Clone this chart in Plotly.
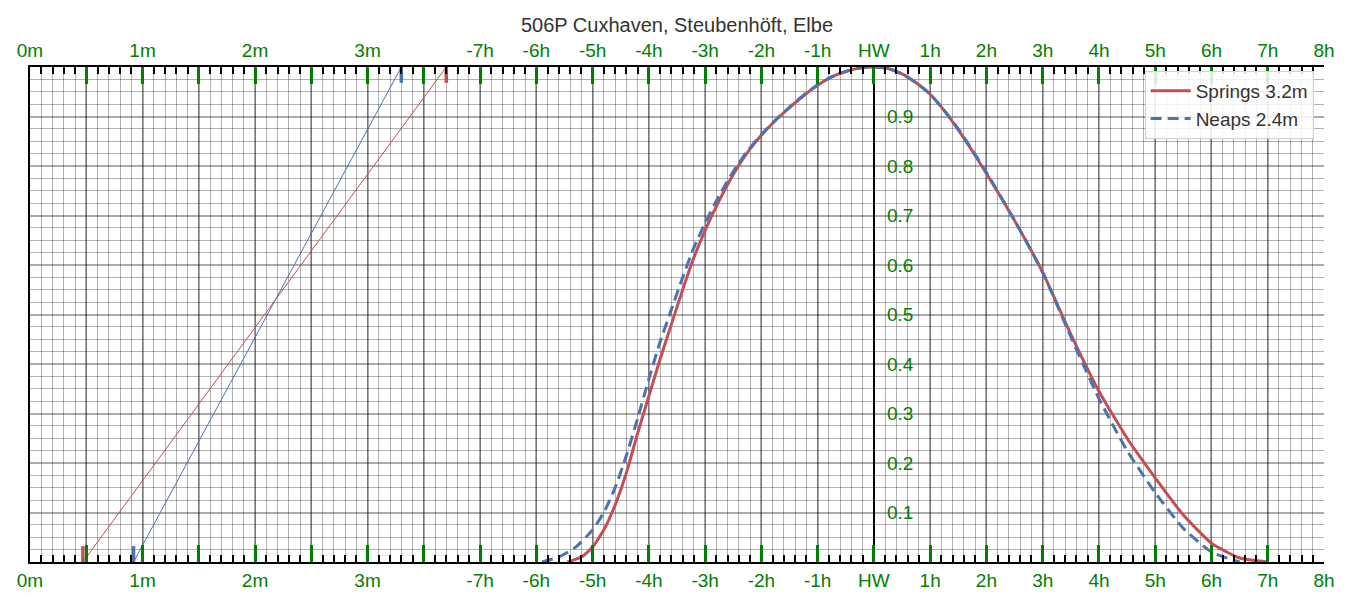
import plotly.graph_objects as go

TITLE = "506P Cuxhaven, Steubenhöft, Elbe"

# Tidal curve: hours relative to HW, height factor (0..1)
springs_hours = [-5.45, -5.2, -5.0, -4.8, -4.6, -4.4, -4.2, -4.0, -3.8, -3.6, -3.4, -3.2, -3.0,
                 -2.75, -2.5, -2.25, -2.0, -1.75, -1.5, -1.25, -1.0, -0.75, -0.5, -0.25, 0.0,
                 0.25, 0.5, 0.75, 1.0, 1.25, 1.5, 1.75, 2.0, 2.5, 3.0, 3.5, 4.0,
                 4.5, 5.0, 5.5, 6.0, 6.5, 7.0]
springs_factor = [0.0, 0.01, 0.03, 0.065, 0.115, 0.18, 0.26, 0.335, 0.41, 0.48, 0.55, 0.615, 0.67,
                  0.73, 0.783, 0.827, 0.862, 0.892, 0.918, 0.942, 0.963, 0.98, 0.991, 0.998, 1.0,
                  0.997, 0.986, 0.968, 0.945, 0.912, 0.873, 0.83, 0.785, 0.69, 0.585, 0.46, 0.345,
                  0.25, 0.17, 0.095, 0.038, 0.008, 0.0]

neaps_hours = [-5.9, -5.6, -5.3, -5.0, -4.8, -4.6, -4.4, -4.2, -4.0, -3.8, -3.6, -3.4, -3.2, -3.0,
               -2.75, -2.5, -2.25, -2.0, -1.75, -1.5, -1.25, -1.0, -0.75, -0.5, -0.25, 0.0,
               0.25, 0.5, 0.75, 1.0, 1.25, 1.5, 1.75, 2.0, 2.5, 3.0, 3.5, 4.0,
               4.5, 5.0, 5.5, 6.0, 6.5]
neaps_factor = [0.0, 0.01, 0.03, 0.065, 0.1, 0.15, 0.215, 0.29, 0.37, 0.445, 0.51, 0.575, 0.635, 0.685,
                0.74, 0.789, 0.83, 0.864, 0.893, 0.919, 0.943, 0.964, 0.98, 0.991, 0.998, 1.0,
                0.997, 0.986, 0.968, 0.945, 0.912, 0.875, 0.832, 0.787, 0.69, 0.585, 0.455, 0.33,
                0.225, 0.14, 0.068, 0.02, 0.0]

# Height scale (metres): LW and HW for springs / neaps
springs_lw_hw = [0.47, 3.70]
neaps_lw_hw = [0.92, 3.30]
springs_label = "Springs 3.2m"
neaps_label = "Neaps 2.4m"

# Axis ticks: unified x coordinate (hours from HW); metres scale occupies -15..-9 (2 units per metre)
x_tickvals = list(range(-15, 9))
x_ticktext = ["0m", "", "1m", "", "2m", "", "3m", "", "-7h", "-6h", "-5h", "-4h", "-3h", "-2h", "-1h",
              "HW", "1h", "2h", "3h", "4h", "5h", "6h", "7h", "8h"]
y_tickvals = [0.1, 0.2, 0.3, 0.4, 0.5, 0.6, 0.7, 0.8, 0.9]
y_ticktext = ["0.1", "0.2", "0.3", "0.4", "0.5", "0.6", "0.7", "0.8", "0.9"]

RED = "#C44E52"
BLUE = "#4C72B0"
GREEN = "#008000"
FONT = "Liberation Sans, Arial, sans-serif"
MAJOR_GRID = "rgba(0,0,0,0.33)"
MINOR_GRID = "rgba(0,0,0,0.30)"


def m_to_x(m):
    return -15 + 2 * m


fig = go.Figure()

# height scale lines
for (lw, hw), col in ((springs_lw_hw, RED), (neaps_lw_hw, BLUE)):
    fig.add_trace(go.Scatter(x=[m_to_x(lw), m_to_x(hw)], y=[0, 1], mode="lines",
                             line=dict(color=col, width=1), showlegend=False, hoverinfo="skip"))
    fig.add_trace(go.Scatter(x=[m_to_x(lw), m_to_x(lw)], y=[0, 0.032], mode="lines",
                             line=dict(color=col, width=3.5), showlegend=False, hoverinfo="skip"))
    fig.add_trace(go.Scatter(x=[m_to_x(hw), m_to_x(hw)], y=[0.968, 1], mode="lines",
                             line=dict(color=col, width=3.5), showlegend=False, hoverinfo="skip"))

fig.add_trace(go.Scatter(x=springs_hours, y=springs_factor, mode="lines", name=springs_label,
                         line=dict(color=RED, width=3, shape="spline", smoothing=0.5)))
fig.add_trace(go.Scatter(x=neaps_hours, y=neaps_factor, mode="lines", name=neaps_label,
                         line=dict(color=BLUE, width=3, dash="11px,6px", shape="spline", smoothing=0.5)))

# invisible anchors for the overlay axes
fig.add_trace(go.Scatter(x=[0], y=[0.5], xaxis="x2", yaxis="y2", mode="markers",
                         marker=dict(opacity=0), showlegend=False, hoverinfo="skip"))

tick_font = dict(family=FONT, size=19, color=GREEN)

common_x = dict(
    range=[-15, 8], tickmode="array", tickvals=x_tickvals, ticktext=x_ticktext,
    ticks="inside", ticklen=17, tickwidth=3, tickcolor=GREEN, tickfont=tick_font,
    showline=True, linecolor="black", linewidth=2,
)

fig.update_layout(
    width=1347, height=603,
    margin=dict(l=30, r=20, t=67, b=36),
    paper_bgcolor="white", plot_bgcolor="white",
    font=dict(family=FONT, size=19, color="#333333"),
    title=dict(text=TITLE, x=0.5, xref="paper", xanchor="center", y=1 - 25 / 603, yanchor="middle",
               font=dict(family=FONT, size=20, color="#333333")),
    xaxis=dict(
        **common_x, side="bottom",
        showgrid=True, gridcolor=MAJOR_GRID, gridwidth=1.6,
        zeroline=True, zerolinecolor="black", zerolinewidth=2,
        minor=dict(tickmode="linear", tick0=-15, dtick=0.2, ticks="inside", ticklen=7, tickwidth=1.5,
                   tickcolor="black", showgrid=True, gridcolor=MINOR_GRID, gridwidth=0.5),
    ),
    xaxis2=dict(
        **common_x, side="top", overlaying="x", matches="x", anchor="y",
        showgrid=False, zeroline=False,
        minor=dict(tickmode="linear", tick0=-15, dtick=0.2, ticks="inside", ticklen=7, tickwidth=1.5,
                   tickcolor="black", showgrid=False),
    ),
    yaxis=dict(
        range=[0, 1], tickmode="linear", tick0=0, dtick=0.1, showticklabels=False, ticks="",
        showgrid=True, gridcolor=MAJOR_GRID, gridwidth=1.6, zeroline=False,
        showline=True, linecolor="black", linewidth=2,
        minor=dict(tickmode="linear", tick0=0, dtick=0.025, showgrid=True,
                   gridcolor=MINOR_GRID, gridwidth=0.5),
    ),
    yaxis2=dict(
        range=[0, 1], matches="y", overlaying="y", anchor="free", position=15 / 23, side="right",
        tickmode="array", tickvals=y_tickvals, ticktext=y_ticktext, ticks="", ticklabelstandoff=12,
        tickfont=tick_font, showgrid=False, zeroline=False, showline=False,
    ),
    legend=dict(x=0.992, y=0.992, xanchor="right", yanchor="top", bgcolor="rgba(255,255,255,0.85)",
                bordercolor="#d0d0d0", borderwidth=1, font=dict(family=FONT, size=19, color="#333333"),
                itemwidth=40),
)

fig.write_html("out.html")
